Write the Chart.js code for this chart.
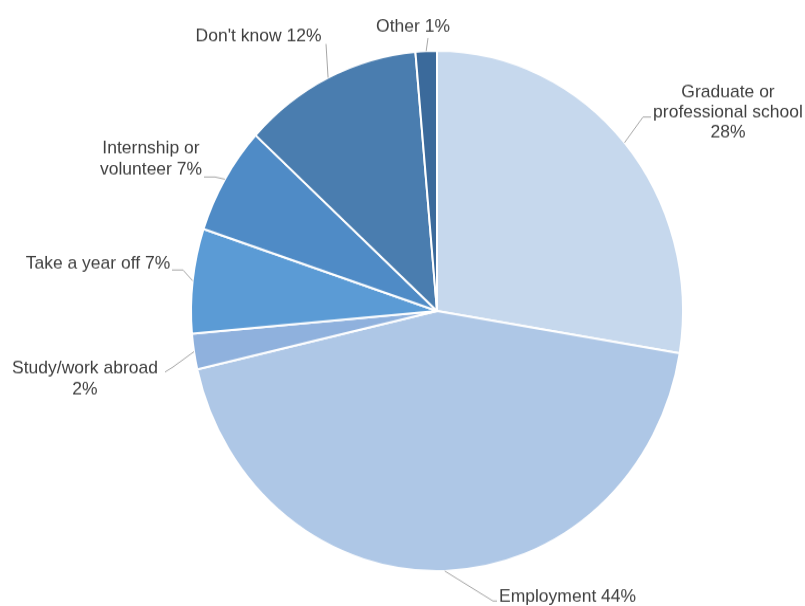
<!DOCTYPE html>
<html>
<head>
<meta charset="utf-8">
<script src="https://cdn.jsdelivr.net/npm/chart.js@4"></script>
<style>
  html { margin: 0; padding: 0; overflow: hidden; background: #ffffff; }
  body { margin: 0; padding: 0; width: 805px; height: 606px; background: #ffffff; }
  #wrap { width: 805px; height: 573px; transform: scaleY(1.0576); transform-origin: 0 0; }
</style>
</head>
<body>
<div id="wrap"><canvas id="c"></canvas></div>
<script>
// ---- data ----
const categories = ['Graduate or professional school', 'Employment', 'Study/work abroad', 'Take a year off', 'Internship or volunteer', "Don't know", 'Other'];
const values = [27.6, 43.8, 2.2, 6.5, 6.7, 11.8, 1.4];
const percentLabels = ['28%', '44%', '2%', '7%', '7%', '12%', '1%'];
const colors = ['#c6d8ed', '#aec7e6', '#8fb1dd', '#5b9bd5', '#4f8bc6', '#4a7daf', '#3b6a9b'];

// label text lines per slice
const labelLines = [
  ['Graduate or', 'professional school', '28%'],
  ['Employment 44%'],
  ['Study/work abroad', '2%'],
  ['Take a year off 7%'],
  ['Internship or', 'volunteer 7%'],
  ["Don't know 12%"],
  ['Other 1%']
];

// label layout (display pixels): text anchor x, first-line y, line height, alignment, leader waypoints
const K = 1.0576; // vertical stretch of the figure
const labelLayout = [
  { x: 728, y: 92, lh: 20.5, align: 'center', path: [[643, 117], [651, 117]] },
  { x: 499, y: 597, lh: 20, align: 'left', path: [[493, 601], [497, 601]] },
  { x: 85, y: 368, lh: 22, align: 'center', path: [[173, 367], [165, 372]] },
  { x: 98, y: 264, lh: 20, align: 'center', path: [[183, 270], [172, 270]] },
  { x: 151, y: 149, lh: 21, align: 'center', path: [[215, 177], [204, 177]] },
  { x: 258.5, y: 36, lh: 20, align: 'center', path: [[326, 44]] },
  { x: 413, y: 27, lh: 20, align: 'center', path: [[428, 38]] }
];

const labelPlugin = {
  id: 'pieLabels',
  afterDraw(chart) {
    const ctx = chart.ctx;
    const meta = chart.getDatasetMeta(0);
    meta.data.forEach((arc, i) => {
      const p = arc.getProps(['x', 'y', 'startAngle', 'endAngle', 'outerRadius'], true);
      const mid = (p.startAngle + p.endAngle) / 2;
      const sx = p.x + Math.cos(mid) * p.outerRadius;
      const sy = p.y + Math.sin(mid) * p.outerRadius;
      const L = labelLayout[i];
      ctx.save();
      ctx.strokeStyle = '#a6a6a6';
      ctx.lineWidth = 1;
      ctx.beginPath();
      ctx.moveTo(sx, sy);
      L.path.forEach(pt => ctx.lineTo(pt[0], pt[1] / K));
      ctx.stroke();
      ctx.fillStyle = '#404040';
      ctx.font = '17.5px "Liberation Sans", Arial, sans-serif';
      ctx.textAlign = L.align;
      ctx.textBaseline = 'middle';
      labelLines[i].forEach((t, j) => {
        ctx.save();
        ctx.translate(L.x, (L.y + j * L.lh) / K);
        ctx.scale(1, 1 / K);
        ctx.fillText(t, 0, 0);
        ctx.restore();
      });
      ctx.restore();
    });
  }
};

new Chart(document.getElementById('c'), {
  type: 'pie',
  data: {
    labels: categories,
    datasets: [{
      data: values,
      backgroundColor: colors,
      borderColor: '#ffffff',
      borderWidth: 2,
      hoverOffset: 0,
      offset: 0
    }]
  },
  options: {
    responsive: true,
    maintainAspectRatio: false,
    animation: false,
    events: [],
    radius: 246,
    layout: { padding: { left: 191, right: 122, top: 48, bottom: 33 } },
    plugins: { legend: { display: false }, tooltip: { enabled: false } }
  },
  plugins: [labelPlugin]
});
</script>
</body>
</html>
